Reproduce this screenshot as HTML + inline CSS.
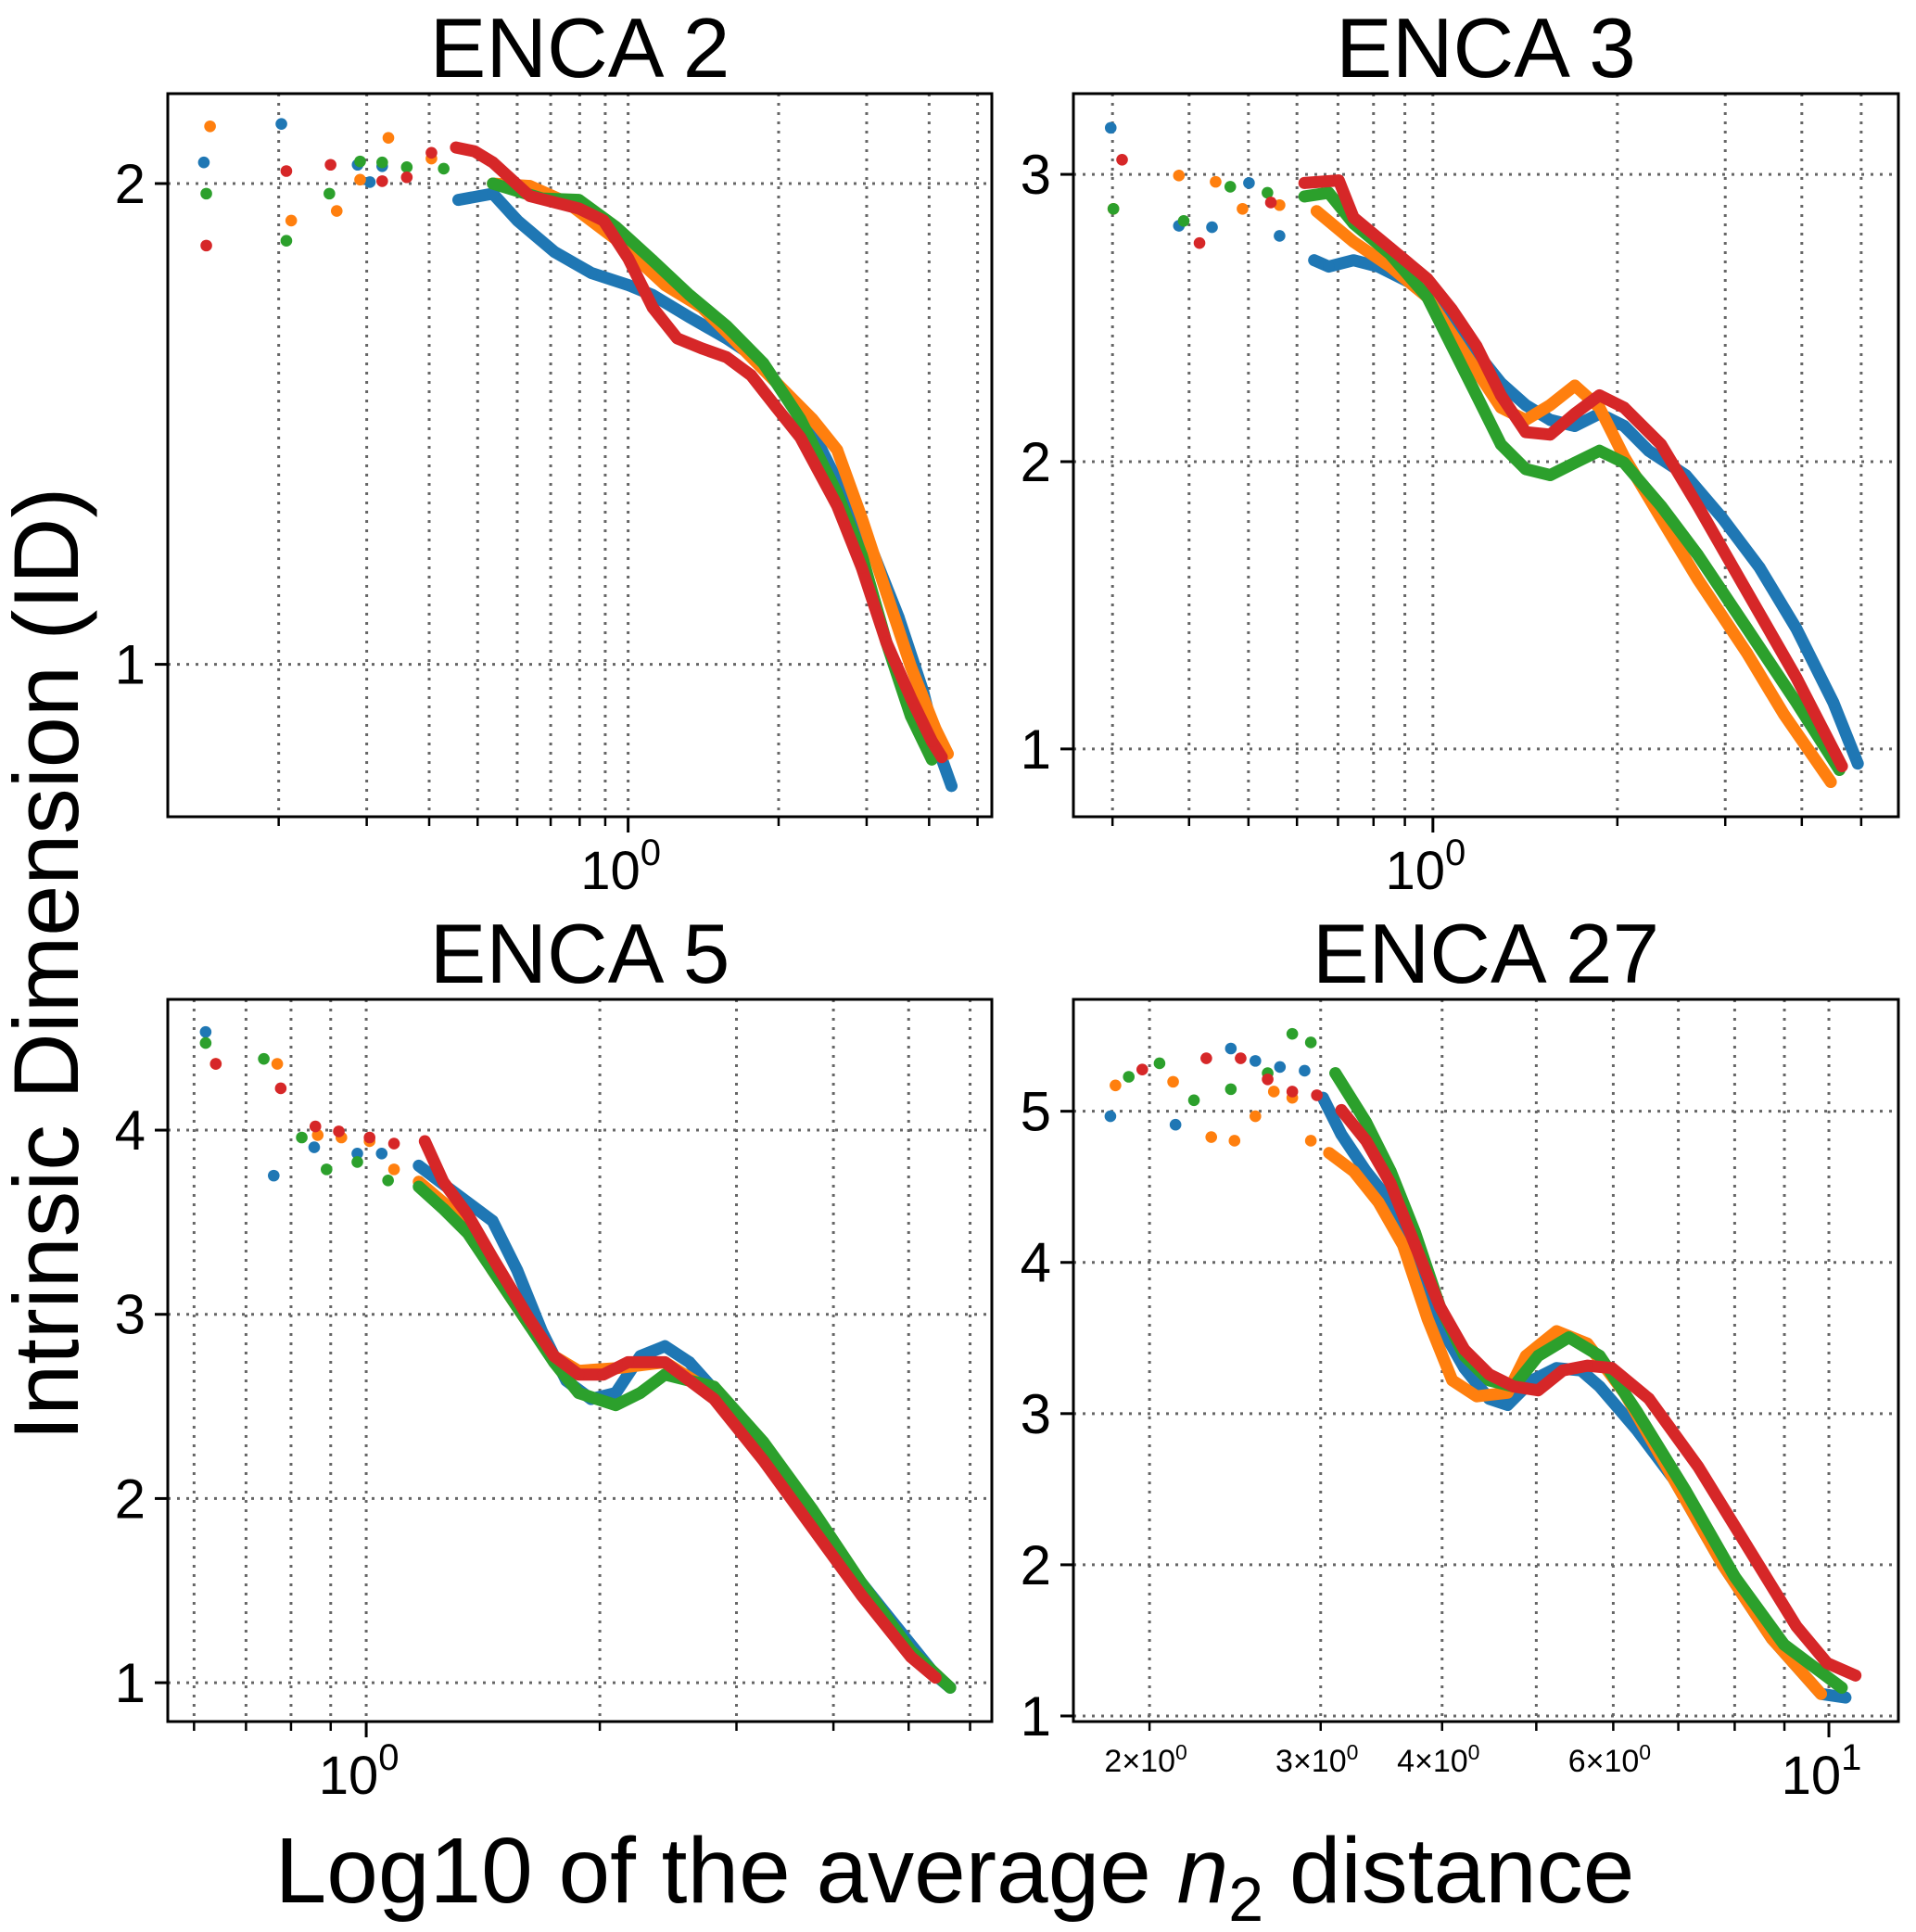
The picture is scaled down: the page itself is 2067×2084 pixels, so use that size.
<!DOCTYPE html>
<html><head><meta charset="utf-8">
<style>
html,body{margin:0;padding:0;background:#fff;}
svg{display:block;font-family:"Liberation Sans","DejaVu Sans",sans-serif;}
</style></head>
<body>
<svg id="fig" width="2067" height="2084" viewBox="0 0 2067 2084" xmlns="http://www.w3.org/2000/svg">
<rect width="2067" height="2084" fill="#fff"/>
<text x="0" y="0" transform="translate(84,1040) rotate(-90)" text-anchor="middle" font-size="99" fill="#000">Intrinsic Dimension (ID)</text>
<text x="1030" y="2052" text-anchor="middle" font-size="100" fill="#000">Log10 of the average <tspan font-style="italic">n</tspan><tspan font-size="68" dy="20">2</tspan><tspan dy="-20"> distance</tspan></text>
</svg>
<script>
// ===== ENCA 2 =====
const p1BlueX=[0.1417,0.2025,0.2877,0.3044,0.3222,0.4576,0.5364,0.6007,0.7119,0.8437,1.0,1.120,1.327,1.573,1.762,1.973,2.338,2.771,3.104,3.476,3.893,4.120,4.435];
const p1BlueY=[2.044,2.124,2.039,2.003,2.036,1.966,1.979,1.923,1.858,1.814,1.789,1.768,1.722,1.678,1.644,1.588,1.485,1.330,1.227,1.098,0.943,0.840,0.747];
const p1OrangeX=[0.1458,0.2119,0.2613,0.2910,0.3315,0.4042,0.5364,0.6357,0.7534,0.9449,1.185,1.405,1.573,1.865,2.338,2.619,2.933,3.285,3.679,4.120,4.360];
const p1OrangeY=[2.119,1.923,1.943,2.008,2.095,2.052,2.0,1.995,1.961,1.884,1.789,1.742,1.691,1.613,1.510,1.446,1.304,1.149,0.995,0.866,0.814];
const p1GreenX=[0.1433,0.2072,0.2526,0.2910,0.3222,0.3608,0.4277,0.5364,0.6727,0.7972,0.9449,1.120,1.327,1.573,1.865,2.210,2.619,2.933,3.285,3.679,4.051];
const p1GreenY=[1.979,1.881,1.979,2.046,2.044,2.034,2.031,2.0,1.969,1.966,1.910,1.840,1.768,1.704,1.626,1.510,1.356,1.227,1.046,0.892,0.802];
const p1RedX=[0.1433,0.2072,0.2540,0.3222,0.3608,0.4042,0.4525,0.4928,0.5364,0.6357,0.7972,0.8928,1.0,1.120,1.254,1.405,1.573,1.762,1.973,2.210,2.619,2.933,3.285,3.679,4.051,4.240];
const p1RedY=[1.871,2.026,2.039,2.005,2.013,2.064,2.075,2.067,2.044,1.974,1.948,1.923,1.845,1.742,1.678,1.657,1.639,1.601,1.536,1.472,1.330,1.201,1.046,0.930,0.840,0.807];
const p1YTicks=[1,2];
const p1YTickLabels=["1","2"];
// ===== ENCA 3 =====
const p2BlueX=[0.298,0.385,0.436,0.501,0.562,0.640,0.676,0.742,0.814,0.935,1.074,1.178,1.291,1.417,1.554,1.705,1.870,2.051,2.250,2.585,2.969,3.411,3.918,4.502,4.937];
const p2BlueY=[3.162,2.821,2.816,2.970,2.786,2.701,2.679,2.701,2.679,2.615,2.487,2.380,2.274,2.197,2.145,2.124,2.167,2.124,2.038,1.953,1.803,1.632,1.419,1.162,0.949];
const p2OrangeX=[0.301,0.385,0.442,0.489,0.562,0.646,0.742,0.852,0.979,1.074,1.178,1.291,1.417,1.554,1.705,1.870,2.051,2.356,2.707,3.257,3.741,4.461];
const p2OrangeY=[2.880,2.996,2.974,2.880,2.893,2.872,2.765,2.679,2.573,2.444,2.316,2.188,2.145,2.197,2.265,2.188,2.017,1.803,1.590,1.333,1.120,0.885];
const p2GreenX=[0.301,0.392,0.467,0.537,0.617,0.676,0.742,0.852,0.979,1.074,1.178,1.291,1.417,1.554,1.705,1.870,2.051,2.356,2.707,3.257,3.918,4.608];
const p2GreenY=[2.880,2.838,2.957,2.936,2.923,2.936,2.829,2.722,2.573,2.402,2.231,2.060,1.974,1.953,1.996,2.038,1.996,1.846,1.675,1.419,1.162,0.927];
const p2RedX=[0.311,0.416,0.544,0.617,0.702,0.742,0.852,0.979,1.074,1.178,1.291,1.417,1.554,1.705,1.870,2.051,2.356,2.707,3.257,3.918,4.651];
const p2RedY=[3.051,2.761,2.902,2.970,2.979,2.850,2.744,2.637,2.530,2.402,2.231,2.103,2.094,2.167,2.231,2.188,2.060,1.846,1.547,1.248,0.940];
const p2YTicks=[1,2,3];
const p2YTickLabels=["1","2","3"];
// ===== ENCA 5 =====
const p3BlueX=[0.621,0.760,0.857,0.974,1.047,1.169,1.257,1.352,1.455,1.565,1.684,1.811,1.949,2.097,2.255,2.426,2.609,3.020,3.494,4.044,4.680,5.416,5.656];
const p3BlueY=[4.533,3.753,3.907,3.873,3.873,3.807,3.707,3.607,3.507,3.240,2.907,2.640,2.540,2.573,2.773,2.827,2.740,2.440,2.107,1.707,1.373,1.040,0.973];
const p3OrangeX=[0.640,0.768,0.866,0.929,1.010,1.086,1.169,1.257,1.352,1.455,1.623,1.746,1.878,2.097,2.426,2.807,3.249,3.759,4.350,5.034,5.416];
const p3OrangeY=[4.360,4.360,3.973,3.960,3.940,3.787,3.720,3.607,3.473,3.240,2.940,2.773,2.693,2.707,2.740,2.573,2.240,1.873,1.507,1.173,1.040];
const p3GreenX=[0.621,0.738,0.826,0.889,0.974,1.067,1.169,1.257,1.352,1.455,1.623,1.746,1.878,2.097,2.255,2.426,2.807,3.249,3.759,4.350,5.034,5.656];
const p3GreenY=[4.473,4.387,3.960,3.787,3.827,3.727,3.693,3.573,3.440,3.240,2.940,2.740,2.573,2.507,2.573,2.673,2.607,2.307,1.940,1.540,1.173,0.973];
const p3RedX=[0.640,0.776,0.860,0.922,1.010,1.086,1.190,1.257,1.352,1.455,1.623,1.746,1.878,2.021,2.174,2.426,2.807,3.249,3.759,4.350,5.034,5.416];
const p3RedY=[4.360,4.227,4.020,3.993,3.960,3.927,3.940,3.720,3.540,3.307,2.973,2.773,2.673,2.673,2.740,2.740,2.540,2.207,1.840,1.473,1.140,1.027];
const p3YTicks=[1,2,3,4];
const p3YTickLabels=["1","2","3","4"];
// ===== ENCA 27 =====
const p4BlueX=[1.823,2.127,2.425,2.570,2.724,2.888,3.017,3.151,3.341,3.541,3.753,3.979,4.217,4.471,4.671,4.951,5.246,5.561,5.810,6.341,6.921,7.776,8.737,9.815,10.40];
const p4BlueY=[4.967,4.911,5.415,5.333,5.293,5.268,5.089,4.846,4.602,4.398,4.033,3.585,3.301,3.098,3.057,3.220,3.301,3.285,3.179,2.894,2.569,2.0,1.512,1.146,1.122];
const p4OrangeX=[1.845,2.115,2.315,2.446,2.570,2.685,2.805,2.931,3.061,3.245,3.440,3.646,3.865,4.097,4.342,4.671,4.879,5.246,5.643,6.159,6.921,7.776,8.737,9.815];
const p4OrangeY=[5.171,5.195,4.829,4.805,4.967,5.130,5.089,4.805,4.724,4.602,4.398,4.114,3.626,3.220,3.114,3.138,3.382,3.545,3.463,3.138,2.569,2.0,1.512,1.146];
const p4GreenX=[1.904,2.048,2.222,2.425,2.646,2.805,2.931,3.106,3.341,3.541,3.753,3.979,4.217,4.471,4.739,5.022,5.401,5.810,6.341,7.125,8.006,8.993,10.31];
const p4GreenY=[5.228,5.317,5.073,5.146,5.252,5.512,5.455,5.252,4.927,4.602,4.195,3.707,3.382,3.220,3.179,3.382,3.504,3.382,3.016,2.488,1.919,1.472,1.187];
const p4RedX=[1.966,2.288,2.482,2.646,2.805,2.973,3.151,3.341,3.541,3.753,3.979,4.217,4.471,4.739,5.022,5.324,5.643,5.982,6.529,7.336,8.241,9.260,9.959,10.65];
const p4RedY=[5.276,5.350,5.350,5.211,5.130,5.106,5.008,4.805,4.520,4.114,3.707,3.423,3.260,3.179,3.154,3.285,3.317,3.301,3.098,2.650,2.122,1.593,1.350,1.268];
const p4YTicks=[1,2,3,4,5];
const p4YTickLabels=["1","2","3","4","5"];

const COLORS=["#1f77b4","#ff7f0e","#2ca02c","#d62728"];
const NS="http://www.w3.org/2000/svg";
const svg=document.getElementById("fig");
function mk(tag,attrs,parent){const e=document.createElementNS(NS,tag);for(const k in attrs)e.setAttribute(k,attrs[k]);(parent||svg).appendChild(e);return e;}

const panels=[
 {id:"enca-2",title:"ENCA 2",L:181,R:1070,T:101,B:881,x0:0.1200,x1:5.34,y0:0.683,y1:2.187,yt:p1YTicks,ytl:p1YTickLabels,dense:0.44,
  xminLab:[],series:[[p1BlueX,p1BlueY],[p1OrangeX,p1OrangeY],[p1GreenX,p1GreenY],[p1RedX,p1RedY]]},
 {id:"enca-3",title:"ENCA 3",L:1158,R:2048,T:101,B:881,x0:0.259,x1:5.75,y0:0.764,y1:3.281,yt:p2YTicks,ytl:p2YTickLabels,dense:0.6,
  xminLab:[],series:[[p2BlueX,p2BlueY],[p2OrangeX,p2OrangeY],[p2GreenX,p2GreenY],[p2RedX,p2RedY]]},
 {id:"enca-5",title:"ENCA 5",L:181,R:1070,T:1078,B:1857,x0:0.555,x1:6.40,y0:0.789,y1:4.71,yt:p3YTicks,ytl:p3YTickLabels,dense:1.15,
  xminLab:[],series:[[p3BlueX,p3BlueY],[p3OrangeX,p3OrangeY],[p3GreenX,p3GreenY],[p3RedX,p3RedY]]},
 {id:"enca-27",title:"ENCA 27",L:1158,R:2048,T:1078,B:1857,x0:1.67,x1:11.79,y0:0.963,y1:5.74,yt:p4YTicks,ytl:p4YTickLabels,dense:3.0,
  xminLab:[2,3,4,6],series:[[p4BlueX,p4BlueY],[p4OrangeX,p4OrangeY],[p4GreenX,p4GreenY],[p4RedX,p4RedY]]}
];

panels.forEach(p=>{
  const g=mk("g",{});
  
  
  const lx0=Math.log10(p.x0),lx1=Math.log10(p.x1);
  const X=v=>p.L+(Math.log10(v)-lx0)/(lx1-lx0)*(p.R-p.L);
  const Y=v=>p.B-(v-p.y0)/(p.y1-p.y0)*(p.B-p.T);
  const t=mk("text",{x:(p.L+p.R)/2,y:p.T-18,"text-anchor":"middle","font-size":91,fill:"#000"},g);
  t.textContent=p.title;
  
  
  const grid=mk("g",{},g);
  
  
  for(let e=Math.floor(lx0);e<=Math.ceil(lx1);e++){
    for(let m=1;m<10;m++){
      const v=m*Math.pow(10,e);
      if(v<p.x0||v>p.x1)continue;
      const x=X(v);
      mk("line",{x1:x,x2:x,y1:p.T,y2:p.B,stroke:"#666","stroke-width":3,"stroke-dasharray":"3 7"},grid);
      const major=(m===1);
      mk("line",{x1:x,x2:x,y1:p.B,y2:p.B+(major?17:10),stroke:"#000","stroke-width":major?3:2.5},g);
      if(major){
        const tl=mk("text",{x:x-8,y:p.B+78,"text-anchor":"middle","font-size":58,fill:"#000"},g);
        tl.textContent="10";
        const sp=mk("tspan",{dy:-26,"font-size":40},tl);sp.textContent=String(e);
        
        
      } else if(p.xminLab.indexOf(m)>=0){
        const tl=mk("text",{x:x-4,y:p.B+54,"text-anchor":"middle","font-size":34,fill:"#000"},g);
        tl.textContent=m+"\u00d710";
        const sp=mk("tspan",{dy:-13,"font-size":23},tl);sp.textContent=String(e);
        
        
      }
    }
  }
  p.yt.forEach((v,i)=>{
    const y=Y(v);
    mk("line",{x1:p.L,x2:p.R,y1:y,y2:y,stroke:"#666","stroke-width":3,"stroke-dasharray":"3 7"},grid);
    mk("line",{x1:p.L-14,x2:p.L,y1:y,y2:y,stroke:"#000","stroke-width":3},g);
    const tl=mk("text",{x:p.L-24,y:y+21,"text-anchor":"end","font-size":60,fill:"#000"},g);
    tl.textContent=p.ytl[i];
    
    
  });
  p.series.forEach((s,si)=>{
    const sg=mk("g",{},g);
    
    
    const xs=s[0],ys=s[1];
    let pts=[];
    for(let i=0;i<xs.length;i++){ if(xs[i]>=p.dense) pts.push(X(xs[i]).toFixed(1)+","+Y(ys[i]).toFixed(1)); }
    if(pts.length>1){
      const pl=mk("polyline",{points:pts.join(" "),fill:"none",stroke:COLORS[si],"stroke-width":13,"stroke-linejoin":"round","stroke-linecap":"round"},sg);
      
      
    }
    for(let i=0;i<xs.length;i++){
      const c=mk("circle",{cx:X(xs[i]),cy:Y(ys[i]),r:6.3,fill:COLORS[si]},sg);
      
      
    }
  });
  const fr=mk("rect",{x:p.L,y:p.T,width:p.R-p.L,height:p.B-p.T,fill:"none",stroke:"#000","stroke-width":3},g);
  
  
});
</script>
</body></html>
